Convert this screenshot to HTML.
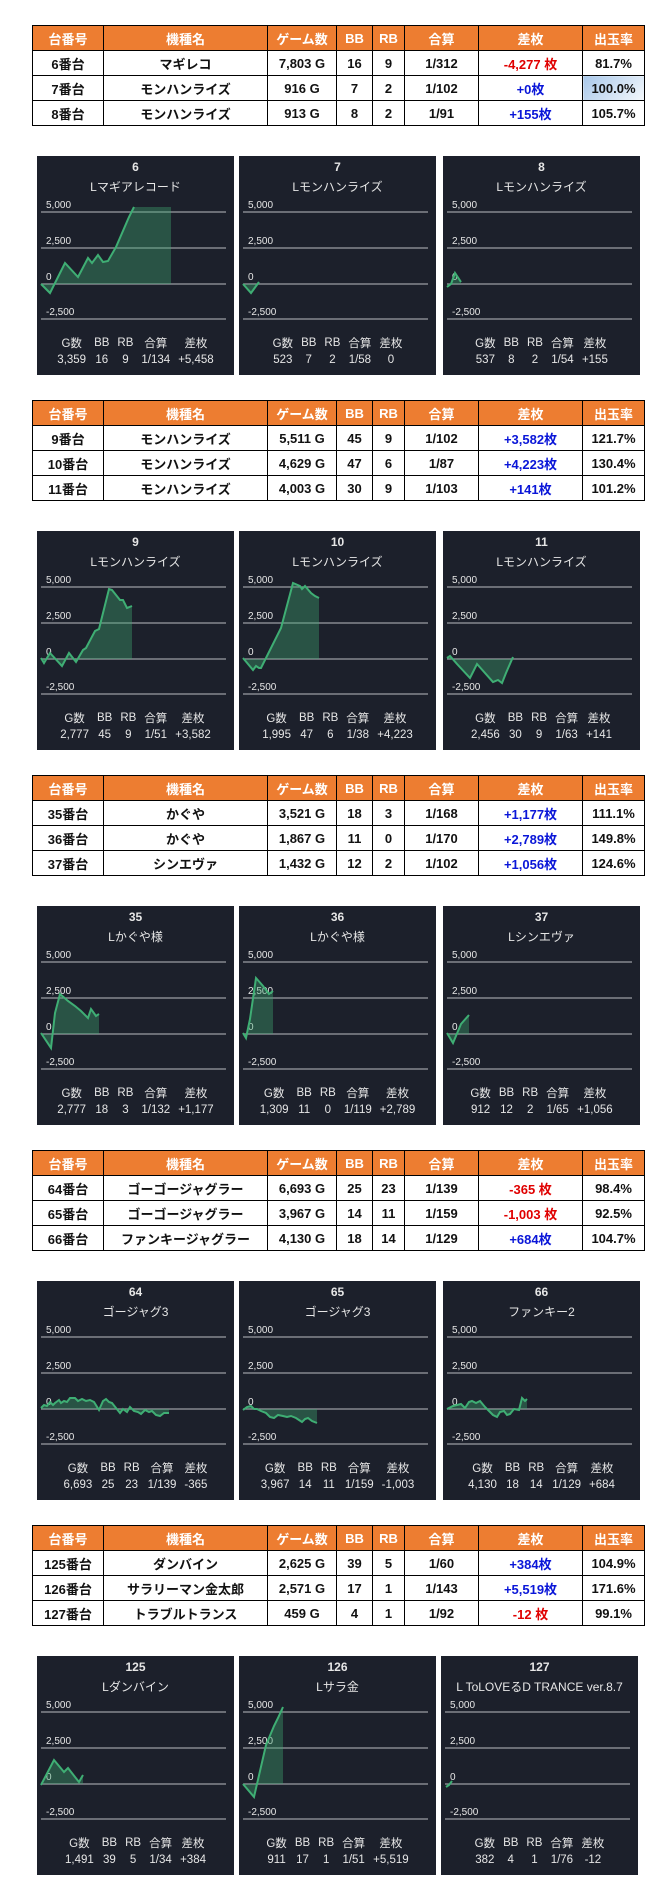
<!DOCTYPE html>
<html><head><meta charset="utf-8">
<style>
*{margin:0;padding:0;box-sizing:border-box}
body{width:669px;height:1901px;background:#fff;position:relative;font-family:"Liberation Sans","Noto Sans CJK JP",sans-serif;overflow:hidden}
table.t{position:absolute;left:32px;width:612px;border-collapse:collapse;table-layout:fixed}
table.t td,table.t th{border:1.5px solid #000;height:25px;text-align:center;font-size:13px;font-weight:bold;color:#111;padding:0}
table.t th{background:#ed7d31;color:#fff}
table.t td.r{color:#e00000}table.t td.b{color:#0a16d8}
table.t td.hl{background:linear-gradient(135deg,#a9c8ea,#f4f8fc)}
.p{position:absolute;width:197px;height:219px;background:#1c202b;color:#e6e6e6}
.p .n{position:absolute;top:4px;width:100%;text-align:center;font-size:12px;font-weight:bold}
.p .m{position:absolute;top:22px;width:100%;text-align:center;font-size:12px;white-space:nowrap}
.p svg{position:absolute;left:0;top:0}
.p table{position:absolute;top:178px;left:0;right:0;margin:0 auto;border-collapse:collapse;font-size:11.5px;color:#e6e6e6}
.p table td{text-align:center;height:17px;padding:0 4px;white-space:nowrap}
</style></head><body>

<table class="t" style="top:25px"><colgroup><col style="width:71px"><col style="width:164px"><col style="width:69px"><col style="width:36px"><col style="width:32px"><col style="width:74px"><col style="width:104px"><col style="width:62px"></colgroup>
<tr><th>台番号</th><th>機種名</th><th>ゲーム数</th><th>BB</th><th>RB</th><th>合算</th><th>差枚</th><th>出玉率</th></tr>
<tr><td>6番台</td><td>マギレコ</td><td>7,803 G</td><td>16</td><td>9</td><td>1/312</td><td class="r">-4,277 枚</td><td>81.7%</td></tr>
<tr><td>7番台</td><td>モンハンライズ</td><td>916 G</td><td>7</td><td>2</td><td>1/102</td><td class="b">+0枚</td><td class="hl">100.0%</td></tr>
<tr><td>8番台</td><td>モンハンライズ</td><td>913 G</td><td>8</td><td>2</td><td>1/91</td><td class="b">+155枚</td><td>105.7%</td></tr></table>

<table class="t" style="top:400px"><colgroup><col style="width:71px"><col style="width:164px"><col style="width:69px"><col style="width:36px"><col style="width:32px"><col style="width:74px"><col style="width:104px"><col style="width:62px"></colgroup>
<tr><th>台番号</th><th>機種名</th><th>ゲーム数</th><th>BB</th><th>RB</th><th>合算</th><th>差枚</th><th>出玉率</th></tr>
<tr><td>9番台</td><td>モンハンライズ</td><td>5,511 G</td><td>45</td><td>9</td><td>1/102</td><td class="b">+3,582枚</td><td>121.7%</td></tr>
<tr><td>10番台</td><td>モンハンライズ</td><td>4,629 G</td><td>47</td><td>6</td><td>1/87</td><td class="b">+4,223枚</td><td>130.4%</td></tr>
<tr><td>11番台</td><td>モンハンライズ</td><td>4,003 G</td><td>30</td><td>9</td><td>1/103</td><td class="b">+141枚</td><td>101.2%</td></tr></table>

<table class="t" style="top:775px"><colgroup><col style="width:71px"><col style="width:164px"><col style="width:69px"><col style="width:36px"><col style="width:32px"><col style="width:74px"><col style="width:104px"><col style="width:62px"></colgroup>
<tr><th>台番号</th><th>機種名</th><th>ゲーム数</th><th>BB</th><th>RB</th><th>合算</th><th>差枚</th><th>出玉率</th></tr>
<tr><td>35番台</td><td>かぐや</td><td>3,521 G</td><td>18</td><td>3</td><td>1/168</td><td class="b">+1,177枚</td><td>111.1%</td></tr>
<tr><td>36番台</td><td>かぐや</td><td>1,867 G</td><td>11</td><td>0</td><td>1/170</td><td class="b">+2,789枚</td><td>149.8%</td></tr>
<tr><td>37番台</td><td>シンエヴァ</td><td>1,432 G</td><td>12</td><td>2</td><td>1/102</td><td class="b">+1,056枚</td><td>124.6%</td></tr></table>

<table class="t" style="top:1150px"><colgroup><col style="width:71px"><col style="width:164px"><col style="width:69px"><col style="width:36px"><col style="width:32px"><col style="width:74px"><col style="width:104px"><col style="width:62px"></colgroup>
<tr><th>台番号</th><th>機種名</th><th>ゲーム数</th><th>BB</th><th>RB</th><th>合算</th><th>差枚</th><th>出玉率</th></tr>
<tr><td>64番台</td><td>ゴーゴージャグラー</td><td>6,693 G</td><td>25</td><td>23</td><td>1/139</td><td class="r">-365 枚</td><td>98.4%</td></tr>
<tr><td>65番台</td><td>ゴーゴージャグラー</td><td>3,967 G</td><td>14</td><td>11</td><td>1/159</td><td class="r">-1,003 枚</td><td>92.5%</td></tr>
<tr><td>66番台</td><td>ファンキージャグラー</td><td>4,130 G</td><td>18</td><td>14</td><td>1/129</td><td class="b">+684枚</td><td>104.7%</td></tr></table>

<table class="t" style="top:1525px"><colgroup><col style="width:71px"><col style="width:164px"><col style="width:69px"><col style="width:36px"><col style="width:32px"><col style="width:74px"><col style="width:104px"><col style="width:62px"></colgroup>
<tr><th>台番号</th><th>機種名</th><th>ゲーム数</th><th>BB</th><th>RB</th><th>合算</th><th>差枚</th><th>出玉率</th></tr>
<tr><td>125番台</td><td>ダンバイン</td><td>2,625 G</td><td>39</td><td>5</td><td>1/60</td><td class="b">+384枚</td><td>104.9%</td></tr>
<tr><td>126番台</td><td>サラリーマン金太郎</td><td>2,571 G</td><td>17</td><td>1</td><td>1/143</td><td class="b">+5,519枚</td><td>171.6%</td></tr>
<tr><td>127番台</td><td>トラブルトランス</td><td>459 G</td><td>4</td><td>1</td><td>1/92</td><td class="r">-12 枚</td><td>99.1%</td></tr></table>

<!-- Row 1 -->
<div class="p" style="left:37px;top:156px"><div class="n">6</div><div class="m">Lマギアレコード</div>
<svg width="197" height="219"><g stroke="#9a9da3" stroke-width="1.2"><line x1="4" y1="56" x2="189" y2="56"/><line x1="4" y1="92" x2="189" y2="92"/><line x1="4" y1="128" x2="189" y2="128"/><line x1="4" y1="163" x2="189" y2="163"/></g><g fill="#e6e6e6" font-size="10" font-family="Liberation Sans,sans-serif"><text x="9" y="52">5,000</text><text x="9" y="88">2,500</text><text x="9" y="124">0</text><text x="9" y="159">-2,500</text></g>
<polygon fill="#3fa872" fill-opacity="0.38" points="4,128 13,137 28,107 41,121 51,102 55,107 61,99 66,106 71,105 79,91 92,61 97,51 134,51 134,128"/>
<polyline fill="none" stroke="#3fae74" stroke-width="2" points="4,128 13,137 28,107 41,121 51,102 55,107 61,99 66,106 71,105 79,91 92,61 97,51"/></svg>
<table><tr><td>G数</td><td>BB</td><td>RB</td><td>合算</td><td>差枚</td></tr><tr><td>3,359</td><td>16</td><td>9</td><td>1/134</td><td>+5,458</td></tr></table></div>

<div class="p" style="left:239px;top:156px"><div class="n">7</div><div class="m">Lモンハンライズ</div>
<svg width="197" height="219"><g stroke="#9a9da3" stroke-width="1.2"><line x1="4" y1="56" x2="189" y2="56"/><line x1="4" y1="92" x2="189" y2="92"/><line x1="4" y1="128" x2="189" y2="128"/><line x1="4" y1="163" x2="189" y2="163"/></g><g fill="#e6e6e6" font-size="10" font-family="Liberation Sans,sans-serif"><text x="9" y="52">5,000</text><text x="9" y="88">2,500</text><text x="9" y="124">0</text><text x="9" y="159">-2,500</text></g>
<polygon fill="#3fa872" fill-opacity="0.38" points="4,128 12,137 20,126 20,128"/>
<polyline fill="none" stroke="#3fae74" stroke-width="2" points="4,128 12,137 20,126"/></svg>
<table><tr><td>G数</td><td>BB</td><td>RB</td><td>合算</td><td>差枚</td></tr><tr><td>523</td><td>7</td><td>2</td><td>1/58</td><td>0</td></tr></table></div>

<div class="p" style="left:443px;top:156px"><div class="n">8</div><div class="m">Lモンハンライズ</div>
<svg width="197" height="219"><g stroke="#9a9da3" stroke-width="1.2"><line x1="4" y1="56" x2="189" y2="56"/><line x1="4" y1="92" x2="189" y2="92"/><line x1="4" y1="128" x2="189" y2="128"/><line x1="4" y1="163" x2="189" y2="163"/></g><g fill="#e6e6e6" font-size="10" font-family="Liberation Sans,sans-serif"><text x="9" y="52">5,000</text><text x="9" y="88">2,500</text><text x="9" y="124">0</text><text x="9" y="159">-2,500</text></g>
<polygon fill="#3fa872" fill-opacity="0.38" points="4,131 8,128 12,117 18,126 18,128 4,128"/>
<polyline fill="none" stroke="#3fae74" stroke-width="2" points="4,131 8,128 12,117 18,126"/></svg>
<table><tr><td>G数</td><td>BB</td><td>RB</td><td>合算</td><td>差枚</td></tr><tr><td>537</td><td>8</td><td>2</td><td>1/54</td><td>+155</td></tr></table></div>

<!-- Row 2 -->
<div class="p" style="left:37px;top:531px"><div class="n">9</div><div class="m">Lモンハンライズ</div>
<svg width="197" height="219"><g stroke="#9a9da3" stroke-width="1.2"><line x1="4" y1="56" x2="189" y2="56"/><line x1="4" y1="92" x2="189" y2="92"/><line x1="4" y1="128" x2="189" y2="128"/><line x1="4" y1="163" x2="189" y2="163"/></g><g fill="#e6e6e6" font-size="10" font-family="Liberation Sans,sans-serif"><text x="9" y="52">5,000</text><text x="9" y="88">2,500</text><text x="9" y="124">0</text><text x="9" y="159">-2,500</text></g>
<polygon fill="#3fa872" fill-opacity="0.38" points="4,127 7,132 13,122 25,135 32,122 39,131 46,119 49,117 58,100 62,98 72,58 75,59 83,69 86,69 90,77 95,75 95,128 4,128"/>
<polyline fill="none" stroke="#3fae74" stroke-width="2" points="4,127 7,132 13,122 25,135 32,122 39,131 46,119 49,117 58,100 62,98 72,58 75,59 83,69 86,69 90,77 95,75"/></svg>
<table><tr><td>G数</td><td>BB</td><td>RB</td><td>合算</td><td>差枚</td></tr><tr><td>2,777</td><td>45</td><td>9</td><td>1/51</td><td>+3,582</td></tr></table></div>

<div class="p" style="left:239px;top:531px"><div class="n">10</div><div class="m">Lモンハンライズ</div>
<svg width="197" height="219"><g stroke="#9a9da3" stroke-width="1.2"><line x1="4" y1="56" x2="189" y2="56"/><line x1="4" y1="92" x2="189" y2="92"/><line x1="4" y1="128" x2="189" y2="128"/><line x1="4" y1="163" x2="189" y2="163"/></g><g fill="#e6e6e6" font-size="10" font-family="Liberation Sans,sans-serif"><text x="9" y="52">5,000</text><text x="9" y="88">2,500</text><text x="9" y="124">0</text><text x="9" y="159">-2,500</text></g>
<polygon fill="#3fa872" fill-opacity="0.38" points="4,127 14,139 17,135 20,137 22,137 29,123 42,97 54,52 61,55 63,58 66,55 72,62 76,65 80,67 80,128 4,128"/>
<polyline fill="none" stroke="#3fae74" stroke-width="2" points="4,127 14,139 17,135 20,137 22,137 29,123 42,97 54,52 61,55 63,58 66,55 72,62 76,65 80,67"/></svg>
<table><tr><td>G数</td><td>BB</td><td>RB</td><td>合算</td><td>差枚</td></tr><tr><td>1,995</td><td>47</td><td>6</td><td>1/38</td><td>+4,223</td></tr></table></div>

<div class="p" style="left:443px;top:531px"><div class="n">11</div><div class="m">Lモンハンライズ</div>
<svg width="197" height="219"><g stroke="#9a9da3" stroke-width="1.2"><line x1="4" y1="56" x2="189" y2="56"/><line x1="4" y1="92" x2="189" y2="92"/><line x1="4" y1="128" x2="189" y2="128"/><line x1="4" y1="163" x2="189" y2="163"/></g><g fill="#e6e6e6" font-size="10" font-family="Liberation Sans,sans-serif"><text x="9" y="52">5,000</text><text x="9" y="88">2,500</text><text x="9" y="124">0</text><text x="9" y="159">-2,500</text></g>
<polygon fill="#3fa872" fill-opacity="0.38" points="4,127 7,125 14,133 27,147 34,133 50,151 55,149 59,152 63,142 70,126 70,128 4,128"/>
<polyline fill="none" stroke="#3fae74" stroke-width="2" points="4,127 7,125 14,133 27,147 34,133 50,151 55,149 59,152 63,142 70,126"/></svg>
<table><tr><td>G数</td><td>BB</td><td>RB</td><td>合算</td><td>差枚</td></tr><tr><td>2,456</td><td>30</td><td>9</td><td>1/63</td><td>+141</td></tr></table></div>

<!-- Row 3 -->
<div class="p" style="left:37px;top:906px"><div class="n">35</div><div class="m">Lかぐや様</div>
<svg width="197" height="219"><g stroke="#9a9da3" stroke-width="1.2"><line x1="4" y1="56" x2="189" y2="56"/><line x1="4" y1="92" x2="189" y2="92"/><line x1="4" y1="128" x2="189" y2="128"/><line x1="4" y1="163" x2="189" y2="163"/></g><g fill="#e6e6e6" font-size="10" font-family="Liberation Sans,sans-serif"><text x="9" y="52">5,000</text><text x="9" y="88">2,500</text><text x="9" y="124">0</text><text x="9" y="159">-2,500</text></g>
<polygon fill="#3fa872" fill-opacity="0.38" points="4,127 14,142 18,107 23,88 31,95 38,100 44,105 51,112 54,103 59,110 62,108 62,128 4,128"/>
<polyline fill="none" stroke="#3fae74" stroke-width="2" points="4,127 14,142 18,107 23,88 31,95 38,100 44,105 51,112 54,103 59,110 62,108"/></svg>
<table><tr><td>G数</td><td>BB</td><td>RB</td><td>合算</td><td>差枚</td></tr><tr><td>2,777</td><td>18</td><td>3</td><td>1/132</td><td>+1,177</td></tr></table></div>

<div class="p" style="left:239px;top:906px"><div class="n">36</div><div class="m">Lかぐや様</div>
<svg width="197" height="219"><g stroke="#9a9da3" stroke-width="1.2"><line x1="4" y1="56" x2="189" y2="56"/><line x1="4" y1="92" x2="189" y2="92"/><line x1="4" y1="128" x2="189" y2="128"/><line x1="4" y1="163" x2="189" y2="163"/></g><g fill="#e6e6e6" font-size="10" font-family="Liberation Sans,sans-serif"><text x="9" y="52">5,000</text><text x="9" y="88">2,500</text><text x="9" y="124">0</text><text x="9" y="159">-2,500</text></g>
<polygon fill="#3fa872" fill-opacity="0.38" points="4,127 7,132 11,113 17,72 24,80 30,88 34,85 34,128 4,128"/>
<polyline fill="none" stroke="#3fae74" stroke-width="2" points="4,127 7,132 11,113 17,72 24,80 30,88 34,85"/></svg>
<table><tr><td>G数</td><td>BB</td><td>RB</td><td>合算</td><td>差枚</td></tr><tr><td>1,309</td><td>11</td><td>0</td><td>1/119</td><td>+2,789</td></tr></table></div>

<div class="p" style="left:443px;top:906px"><div class="n">37</div><div class="m">Lシンエヴァ</div>
<svg width="197" height="219"><g stroke="#9a9da3" stroke-width="1.2"><line x1="4" y1="56" x2="189" y2="56"/><line x1="4" y1="92" x2="189" y2="92"/><line x1="4" y1="128" x2="189" y2="128"/><line x1="4" y1="163" x2="189" y2="163"/></g><g fill="#e6e6e6" font-size="10" font-family="Liberation Sans,sans-serif"><text x="9" y="52">5,000</text><text x="9" y="88">2,500</text><text x="9" y="124">0</text><text x="9" y="159">-2,500</text></g>
<polygon fill="#3fa872" fill-opacity="0.38" points="4,127 10,137 18,118 26,109 26,128 4,128"/>
<polyline fill="none" stroke="#3fae74" stroke-width="2" points="4,127 10,137 18,118 26,109"/></svg>
<table><tr><td>G数</td><td>BB</td><td>RB</td><td>合算</td><td>差枚</td></tr><tr><td>912</td><td>12</td><td>2</td><td>1/65</td><td>+1,056</td></tr></table></div>

<!-- Row 4 -->
<div class="p" style="left:37px;top:1281px"><div class="n">64</div><div class="m">ゴージャグ3</div>
<svg width="197" height="219"><g stroke="#9a9da3" stroke-width="1.2"><line x1="4" y1="56" x2="189" y2="56"/><line x1="4" y1="92" x2="189" y2="92"/><line x1="4" y1="128" x2="189" y2="128"/><line x1="4" y1="163" x2="189" y2="163"/></g><g fill="#e6e6e6" font-size="10" font-family="Liberation Sans,sans-serif"><text x="9" y="52">5,000</text><text x="9" y="88">2,500</text><text x="9" y="124">0</text><text x="9" y="159">-2,500</text></g>
<polygon fill="#3fa872" fill-opacity="0.38" points="4,127 7,124 10,125 13,121 16,124 18,122 22,119 24,122 27,120 30,121 33,117 38,117 41,120 45,118 49,120 53,119 57,121 62,129 66,120 69,118 72,121 75,122 79,127 83,132 86,128 90,131 93,126 97,130 101,131 104,133 108,129 112,131 115,130 119,134 123,135 127,132 132,132 132,128 4,128"/>
<polyline fill="none" stroke="#3fae74" stroke-width="2" points="4,127 7,124 10,125 13,121 16,124 18,122 22,119 24,122 27,120 30,121 33,117 38,117 41,120 45,118 49,120 53,119 57,121 62,129 66,120 69,118 72,121 75,122 79,127 83,132 86,128 90,131 93,126 97,130 101,131 104,133 108,129 112,131 115,130 119,134 123,135 127,132 132,132"/></svg>
<table><tr><td>G数</td><td>BB</td><td>RB</td><td>合算</td><td>差枚</td></tr><tr><td>6,693</td><td>25</td><td>23</td><td>1/139</td><td>-365</td></tr></table></div>

<div class="p" style="left:239px;top:1281px"><div class="n">65</div><div class="m">ゴージャグ3</div>
<svg width="197" height="219"><g stroke="#9a9da3" stroke-width="1.2"><line x1="4" y1="56" x2="189" y2="56"/><line x1="4" y1="92" x2="189" y2="92"/><line x1="4" y1="128" x2="189" y2="128"/><line x1="4" y1="163" x2="189" y2="163"/></g><g fill="#e6e6e6" font-size="10" font-family="Liberation Sans,sans-serif"><text x="9" y="52">5,000</text><text x="9" y="88">2,500</text><text x="9" y="124">0</text><text x="9" y="159">-2,500</text></g>
<polygon fill="#3fa872" fill-opacity="0.38" points="4,129 8,126 12,125 15,128 18,128 22,130 27,132 31,136 35,137 39,134 44,135 48,136 52,135 57,137 60,139 63,141 66,138 69,137 73,140 78,142 78,128 4,128"/>
<polyline fill="none" stroke="#3fae74" stroke-width="2" points="4,129 8,126 12,125 15,128 18,128 22,130 27,132 31,136 35,137 39,134 44,135 48,136 52,135 57,137 60,139 63,141 66,138 69,137 73,140 78,142"/></svg>
<table><tr><td>G数</td><td>BB</td><td>RB</td><td>合算</td><td>差枚</td></tr><tr><td>3,967</td><td>14</td><td>11</td><td>1/159</td><td>-1,003</td></tr></table></div>

<div class="p" style="left:443px;top:1281px"><div class="n">66</div><div class="m">ファンキー2</div>
<svg width="197" height="219"><g stroke="#9a9da3" stroke-width="1.2"><line x1="4" y1="56" x2="189" y2="56"/><line x1="4" y1="92" x2="189" y2="92"/><line x1="4" y1="128" x2="189" y2="128"/><line x1="4" y1="163" x2="189" y2="163"/></g><g fill="#e6e6e6" font-size="10" font-family="Liberation Sans,sans-serif"><text x="9" y="52">5,000</text><text x="9" y="88">2,500</text><text x="9" y="124">0</text><text x="9" y="159">-2,500</text></g>
<polygon fill="#3fa872" fill-opacity="0.38" points="4,128 10,125 14,124 18,123 22,127 26,121 29,120 33,122 37,120 42,126 46,130 50,134 54,136 57,131 61,130 64,134 67,133 71,128 76,129 79,117 82,120 84,118 84,128 4,128"/>
<polyline fill="none" stroke="#3fae74" stroke-width="2" points="4,128 10,125 14,124 18,123 22,127 26,121 29,120 33,122 37,120 42,126 46,130 50,134 54,136 57,131 61,130 64,134 67,133 71,128 76,129 79,117 82,120 84,118"/></svg>
<table><tr><td>G数</td><td>BB</td><td>RB</td><td>合算</td><td>差枚</td></tr><tr><td>4,130</td><td>18</td><td>14</td><td>1/129</td><td>+684</td></tr></table></div>

<!-- Row 5 -->
<div class="p" style="left:37px;top:1656px"><div class="n">125</div><div class="m">Lダンバイン</div>
<svg width="197" height="219"><g stroke="#9a9da3" stroke-width="1.2"><line x1="4" y1="56" x2="189" y2="56"/><line x1="4" y1="92" x2="189" y2="92"/><line x1="4" y1="128" x2="189" y2="128"/><line x1="4" y1="163" x2="189" y2="163"/></g><g fill="#e6e6e6" font-size="10" font-family="Liberation Sans,sans-serif"><text x="9" y="52">5,000</text><text x="9" y="88">2,500</text><text x="9" y="124">0</text><text x="9" y="159">-2,500</text></g>
<polygon fill="#3fa872" fill-opacity="0.38" points="4,129 17,104 27,116 31,112 38,121 42,126 46,119 46,128 4,128"/>
<polyline fill="none" stroke="#3fae74" stroke-width="2" points="4,129 17,104 27,116 31,112 38,121 42,126 46,119"/></svg>
<table><tr><td>G数</td><td>BB</td><td>RB</td><td>合算</td><td>差枚</td></tr><tr><td>1,491</td><td>39</td><td>5</td><td>1/34</td><td>+384</td></tr></table></div>

<div class="p" style="left:239px;top:1656px"><div class="n">126</div><div class="m">Lサラ金</div>
<svg width="197" height="219"><g stroke="#9a9da3" stroke-width="1.2"><line x1="4" y1="56" x2="189" y2="56"/><line x1="4" y1="92" x2="189" y2="92"/><line x1="4" y1="128" x2="189" y2="128"/><line x1="4" y1="163" x2="189" y2="163"/></g><g fill="#e6e6e6" font-size="10" font-family="Liberation Sans,sans-serif"><text x="9" y="52">5,000</text><text x="9" y="88">2,500</text><text x="9" y="124">0</text><text x="9" y="159">-2,500</text></g>
<polygon fill="#3fa872" fill-opacity="0.38" points="4,128 15,141 27,89 35,70 39,62 44,51 44,128"/>
<polyline fill="none" stroke="#3fae74" stroke-width="2" points="4,128 15,141 27,89 35,70 39,62 44,51"/></svg>
<table><tr><td>G数</td><td>BB</td><td>RB</td><td>合算</td><td>差枚</td></tr><tr><td>911</td><td>17</td><td>1</td><td>1/51</td><td>+5,519</td></tr></table></div>

<div class="p" style="left:441px;top:1656px"><div class="n">127</div><div class="m">L ToLOVEるD TRANCE ver.8.7</div>
<svg width="197" height="219"><g stroke="#9a9da3" stroke-width="1.2"><line x1="4" y1="56" x2="189" y2="56"/><line x1="4" y1="92" x2="189" y2="92"/><line x1="4" y1="128" x2="189" y2="128"/><line x1="4" y1="163" x2="189" y2="163"/></g><g fill="#e6e6e6" font-size="10" font-family="Liberation Sans,sans-serif"><text x="9" y="52">5,000</text><text x="9" y="88">2,500</text><text x="9" y="124">0</text><text x="9" y="159">-2,500</text></g>
<polyline fill="none" stroke="#3fae74" stroke-width="2" points="5,131 8,129 11,125"/></svg>
<table><tr><td>G数</td><td>BB</td><td>RB</td><td>合算</td><td>差枚</td></tr><tr><td>382</td><td>4</td><td>1</td><td>1/76</td><td>-12</td></tr></table></div>

</body></html>
